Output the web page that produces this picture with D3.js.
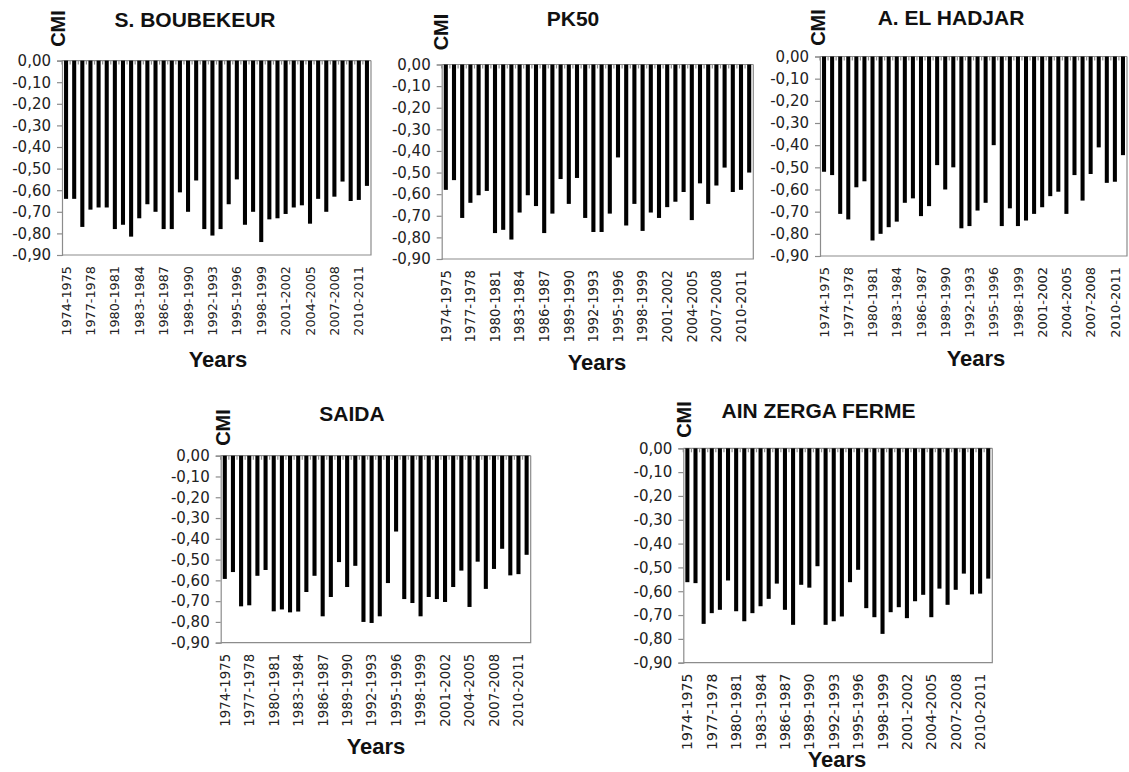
<!DOCTYPE html>
<html>
<head>
<meta charset="utf-8">
<script src="https://cdn.jsdelivr.net/npm/d3@7/dist/d3.min.js"></script>
<style>
  body { margin: 0; background: #fff; }
  svg { display: block; }
  .title, .cmi, .years { font-family: "Liberation Sans", Arial, sans-serif; font-weight: bold; fill: #111; }
  .title { font-size: 21px; }
  .cmi { font-size: 20px; }
  .years { font-size: 22px; }
  .yAxis text { font-family: "DejaVu Sans", sans-serif; font-size: 15px; fill: #222; }
  .xAxis text { font-family: "DejaVu Sans", sans-serif; fill: #222; }
  .frame { stroke: #8c8c8c; stroke-width: 1.2; fill: none; }
</style>
</head>
<body>
<svg width="1129" height="772"></svg>
<script>
const svg = d3.select('svg');

// hydrological years on the category axis
const years = [
  '1974-1975','1975-1976','1976-1977','1977-1978','1978-1979','1979-1980','1980-1981',
  '1981-1982','1982-1983','1983-1984','1984-1985','1985-1986','1986-1987','1987-1988',
  '1988-1989','1989-1990','1990-1991','1991-1992','1992-1993','1993-1994','1994-1995',
  '1995-1996','1996-1997','1997-1998','1998-1999','1999-2000','2000-2001','2001-2002',
  '2002-2003','2003-2004','2004-2005','2005-2006','2006-2007','2007-2008','2008-2009',
  '2009-2010','2010-2011','2011-2012'
];
const yTicks = [0, -0.1, -0.2, -0.3, -0.4, -0.5, -0.6, -0.7, -0.8, -0.9];
const stations = ['S. BOUBEKEUR', 'PK50', 'A. EL HADJAR', 'SAIDA', 'AIN ZERGA FERME'];

// CMI values
const sBoubekeur = [-0.64,-0.64,-0.77,-0.69,-0.68,-0.68,-0.78,-0.76,-0.815,-0.73,-0.665,-0.70,-0.78,-0.78,
  -0.61,-0.70,-0.555,-0.78,-0.81,-0.78,-0.665,-0.55,-0.76,-0.70,-0.84,-0.735,-0.73,-0.71,
  -0.68,-0.67,-0.755,-0.64,-0.70,-0.63,-0.56,-0.65,-0.645,-0.58];
const pk50 = [-0.58,-0.535,-0.71,-0.64,-0.605,-0.585,-0.78,-0.765,-0.81,-0.685,-0.605,-0.655,-0.78,-0.69,
  -0.53,-0.645,-0.525,-0.71,-0.775,-0.775,-0.69,-0.43,-0.745,-0.645,-0.77,-0.685,-0.71,-0.66,
  -0.635,-0.59,-0.72,-0.55,-0.645,-0.56,-0.477,-0.59,-0.58,-0.50];
const aElHadjar = [-0.52,-0.535,-0.71,-0.735,-0.59,-0.563,-0.83,-0.80,-0.77,-0.745,-0.66,-0.64,-0.72,-0.675,
  -0.49,-0.60,-0.50,-0.775,-0.765,-0.695,-0.66,-0.40,-0.765,-0.685,-0.765,-0.74,-0.71,-0.68,
  -0.63,-0.61,-0.71,-0.535,-0.65,-0.53,-0.41,-0.57,-0.565,-0.445];
const saida = [-0.593,-0.56,-0.725,-0.72,-0.578,-0.55,-0.749,-0.74,-0.754,-0.75,-0.656,-0.578,-0.773,-0.68,
  -0.512,-0.632,-0.53,-0.80,-0.805,-0.773,-0.613,-0.365,-0.69,-0.709,-0.773,-0.68,-0.69,-0.704,
  -0.632,-0.553,-0.728,-0.51,-0.641,-0.545,-0.448,-0.576,-0.57,-0.477];
const ainZergaFerme = [-0.562,-0.566,-0.737,-0.692,-0.678,-0.555,-0.684,-0.726,-0.692,-0.663,-0.632,-0.568,-0.678,-0.741,
  -0.573,-0.585,-0.495,-0.741,-0.726,-0.706,-0.562,-0.51,-0.671,-0.709,-0.779,-0.688,-0.667,-0.713,
  -0.642,-0.615,-0.709,-0.589,-0.657,-0.594,-0.526,-0.613,-0.61,-0.547];

const series = [sBoubekeur, pk50, aElHadjar, saida, ainZergaFerme];

// where each small chart sits on the page
const frames = [
  { x0: 62,    x1: 371,   top: 60.6,  bottom: 255,   titleX: 195,   titleY: 27,    cmiX: 58,  cmiY: 28.5,  yearsX: 218, yearsY: 367, labelSize: 12.8 },
  { x0: 441.7, x1: 753.3, top: 64.5,  bottom: 259,   titleX: 573,   titleY: 26,    cmiX: 441, cmiY: 32,    yearsX: 597, yearsY: 370, labelSize: 13.3 },
  { x0: 820,   x1: 1127,  top: 56.5,  bottom: 256,   titleX: 951,   titleY: 25,    cmiX: 818, cmiY: 27.5,  yearsX: 976, yearsY: 366, labelSize: 13 },
  { x0: 220.7, x1: 530.7, top: 455.7, bottom: 642.7, titleX: 352,   titleY: 420.7, cmiX: 223, cmiY: 427.5, yearsX: 376, yearsY: 754, labelSize: 13.4 },
  { x0: 683.3, x1: 992.3, top: 448.3, bottom: 662.7, titleX: 818.5, titleY: 417.7, cmiX: 684, cmiY: 419.5, yearsX: 837, yearsY: 767, labelSize: 14 }
];

const locale = d3.formatLocale({ decimal: ',', thousands: ' ', grouping: [3], currency: ['', ''], minus: '-' });
const fmt = locale.format('.2f');

const drawPanel = (station, values, f) => {
  const g = svg.append('g').attr('class', 'panel');

  const xScale = d3.scaleBand()
    .domain(years)
    .range([f.x0, f.x1])
    .paddingInner(0.5)
    .paddingOuter(0.25);

  const yScale = d3.scaleLinear()
    .domain([0, -0.9])
    .range([f.top, f.bottom]);

  // plot area border (right + bottom)
  g.append('path')
    .attr('class', 'frame')
    .attr('d', `M${f.x1},${f.top}V${f.bottom}H${f.x0}`);

  // category axis along the zero line, ticks at category boundaries
  const step = xScale.step();
  g.append('line')
    .attr('class', 'frame')
    .attr('x1', f.x0).attr('x2', f.x1)
    .attr('y1', yScale(0)).attr('y2', yScale(0));
  g.selectAll('.catTick').data(years)
    .enter().append('line')
      .attr('class', 'frame catTick')
      .attr('stroke-width', 0.8)
      .attr('x1', d => xScale(d) - (step - xScale.bandwidth()) / 2)
      .attr('x2', d => xScale(d) - (step - xScale.bandwidth()) / 2)
      .attr('y1', yScale(0))
      .attr('y2', yScale(0) + 4);

  // bars
  g.selectAll('rect').data(values)
    .enter().append('rect')
      .attr('x', (d, i) => xScale(years[i]))
      .attr('y', yScale(0))
      .attr('width', xScale.bandwidth())
      .attr('height', d => yScale(d) - yScale(0))
      .attr('fill', '#000');

  // value axis
  const yAxis = d3.axisLeft(yScale)
    .tickValues(yTicks)
    .tickFormat(fmt)
    .tickSize(5)
    .tickPadding(6);
  const yAxisG = g.append('g')
    .attr('class', 'yAxis')
    .attr('transform', `translate(${f.x0},0)`)
    .call(yAxis);
  yAxisG.selectAll('.domain, line').attr('stroke', '#8c8c8c').attr('stroke-width', 1.2);

  // year labels, every third category
  const xAxis = d3.axisBottom(xScale)
    .tickValues(years.filter((d, i) => i % 3 === 0))
    .tickSize(0)
    .tickPadding(0);
  const xAxisG = g.append('g')
    .attr('class', 'xAxis')
    .attr('transform', `translate(0,${f.bottom})`)
    .call(xAxis);
  xAxisG.select('.domain').remove();
  xAxisG.selectAll('text')
    .style('font-size', `${f.labelSize}px`)
    .attr('transform', 'rotate(-90)')
    .attr('text-anchor', 'end')
    .attr('x', -11)
    .attr('y', 0)
    .attr('dy', '0.36em');

  g.append('text')
    .attr('class', 'title')
    .attr('x', f.titleX)
    .attr('y', f.titleY)
    .attr('text-anchor', 'middle')
    .text(station);

  g.append('text')
    .attr('class', 'cmi')
    .attr('transform', `translate(${f.cmiX},${f.cmiY}) rotate(-90)`)
    .attr('text-anchor', 'middle')
    .attr('dy', '0.36em')
    .text('CMI');

  g.append('text')
    .attr('class', 'years')
    .attr('x', f.yearsX)
    .attr('y', f.yearsY)
    .attr('text-anchor', 'middle')
    .text('Years');
};

stations.forEach((s, i) => drawPanel(s, series[i], frames[i]));
</script>
</body>
</html>
